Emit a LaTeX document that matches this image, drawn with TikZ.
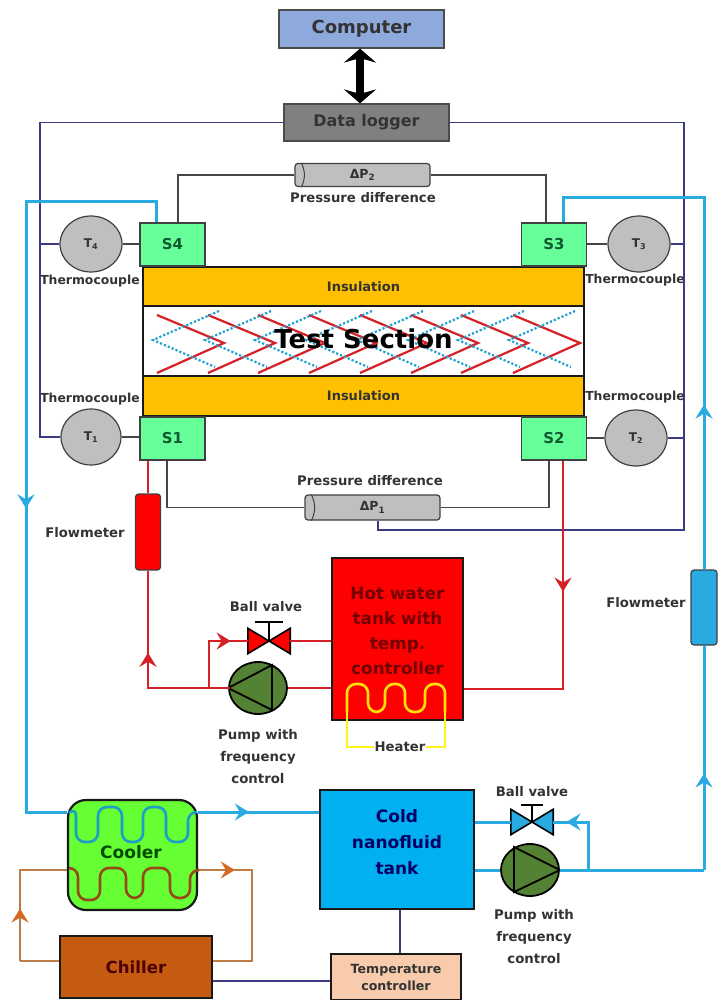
\documentclass[tikz,border=0pt]{standalone}
\usepackage{fontspec}
\setmainfont{DejaVu Sans}
\usepackage{tikz}
\usetikzlibrary{arrows.meta,calc,shapes.geometric,decorations.markings}
\definecolor{pipecold}{RGB}{41,171,226}
\definecolor{pipehot}{RGB}{214,32,39}
\definecolor{pipebrown}{RGB}{190,125,70}
\definecolor{tipbrown}{RGB}{214,105,35}
\definecolor{wirenavy}{RGB}{60,60,130}
\definecolor{wiregray}{RGB}{70,70,70}
\definecolor{sensorgreen}{RGB}{102,255,153}
\definecolor{sensortext}{RGB}{15,90,50}
\definecolor{insulation}{RGB}{255,192,0}
\definecolor{pumpgreen}{RGB}{84,130,53}
\definecolor{computerblue}{RGB}{142,169,219}
\definecolor{coldblue}{RGB}{0,176,240}
\definecolor{coolergreen}{RGB}{102,255,51}
\definecolor{chillerbrown}{RGB}{197,90,17}
\definecolor{ctrlpeach}{RGB}{248,203,173}
\begin{document}
\begin{tikzpicture}[x=1pt,y=-1pt,
    every node/.style={font=\bfseries\fontsize{12}{14}\selectfont, text=black!80},
    box/.style={draw=black!90, line width=2.2pt, inner sep=0pt, align=center},
    sensor/.style={draw=black!75, line width=1.2pt, fill=sensorgreen, minimum width=65pt, minimum height=43pt, inner sep=0pt, text=sensortext, font=\bfseries\fontsize{15}{17}\selectfont},
    tcouple/.style={ellipse, draw=black!75, line width=1.2pt, fill=black!25, minimum width=62pt, minimum height=56pt, inner sep=0pt, font=\bfseries\fontsize{12}{14}\selectfont},
    capt/.style={font=\bfseries\fontsize{13.2}{15}\selectfont, inner sep=0pt},
    thermo/.style={font=\bfseries\fontsize{12.4}{14}\selectfont, inner sep=0pt},
    textlabel/.style={font=\bfseries\fontsize{13.3}{22}\selectfont, inner sep=0pt, align=center},
    pumpbody/.style={ellipse, draw=black, line width=1.8pt, fill=pumpgreen, minimum width=58pt, minimum height=52pt, inner sep=0pt},
    valvebody/.style={minimum width=42pt, minimum height=25pt, inner sep=0pt},
    dpcell/.style={draw=black!75, line width=1.2pt, fill=black!25, rounded corners=3pt, minimum width=135pt, minimum height=23pt, inner sep=0pt, font=\bfseries\fontsize{12.5}{14}\selectfont},
    flowcell/.style={draw=black!75, line width=1.2pt, rounded corners=3pt, inner sep=0pt},
    dataline/.style={draw=wirenavy, line width=1.2pt},
    signalline/.style={draw=wiregray, line width=1.2pt},
    coldpipe/.style={draw=pipecold, line width=3pt},
    hotpipe/.style={draw=pipehot, line width=2.8pt},
    brownpipe/.style={draw=pipebrown, line width=2.6pt},
    coilline/.style={line width=2.6pt, rounded corners=9pt},
    flowtip/.style={postaction={decorate, decoration={markings, mark=at position #1 with {\arrow{Stealth[length=14pt,width=17pt,inset=5pt]}}}}},
    browntip/.style={postaction={decorate, decoration={markings, mark=at position #1 with {\arrow[tipbrown]{Stealth[length=14pt,width=17pt,inset=5pt]}}}}},
]
\useasboundingbox (0,0) rectangle (722,1000);

% control and logging
\node[box, draw=black!70, line width=1.2pt, fill=computerblue, minimum width=165pt, minimum height=38pt, font=\bfseries\fontsize{18}{20}\selectfont] (computer) at (361.5,29) {Computer};
\node[box, draw=black!70, line width=1.2pt, fill=black!50, minimum width=165pt, minimum height=37pt, font=\bfseries\fontsize{16}{18}\selectfont] (logger) at (366.5,122.5) {Data logger};
\draw[{Stealth[length=14pt,width=32pt]}-{Stealth[length=14pt,width=32pt]}, line width=8pt, black]
    (computer.south -| 360,0) -- (logger.north -| 360,0);

% test section
\node[box, fill=white, minimum width=441pt, minimum height=70pt] (section) at (363.5,341) {};
\foreach \x in {157,208,258,309,360,411,461,513}
    \draw[pipehot, line width=2.2pt] (\x,315) -- (\x+67,343) -- (\x,373);
\foreach \x in {153,205,255,306,357,408,458,509}
    \draw[pipecold!80!teal, line width=2.2pt, dotted] (\x+66,311) -- (\x,340) -- (\x+62,367);
\node[font=\bfseries\fontsize{26}{30}\selectfont, text=black, inner sep=0pt] (title) at (363.5,339) {Test Section};
\node[box, fill=insulation, minimum width=441pt, minimum height=39pt, font=\bfseries\fontsize{13}{15}\selectfont] (instop) at (363.5,286.5) {Insulation};
\node[box, fill=insulation, minimum width=441pt, minimum height=40pt, font=\bfseries\fontsize{13}{15}\selectfont] (insbot) at (363.5,396) {Insulation};

% sensors
\node[sensor] (S4) at (172.5,244.5) {S4};
\node[sensor] (S3) at (554,244.5) {S3};
\node[sensor] (S1) at (172.5,438.5) {S1};
\node[sensor] (S2) at (554,438.5) {S2};
\node[tcouple] (T4) at (91,244) {T\textsubscript{4}};
\node[tcouple] (T3) at (639,244) {T\textsubscript{3}};
\node[tcouple, minimum width=60pt] (T1) at (91,437) {T\textsubscript{1}};
\node[tcouple] (T2) at (636,438) {T\textsubscript{2}};
\node[thermo] (tc4) at (90,281) {Thermocouple};
\node[thermo] (tc1) at (90,399) {Thermocouple};
\node[thermo] (tc3) at (635,280) {Thermocouple};
\node[thermo] (tc2) at (635,397) {Thermocouple};

% pressure cells
\node[dpcell] (dp2) at (362.5,175) {Δ{}P\textsubscript{2}};
\node[dpcell, minimum height=25pt] (dp1) at (372.5,507.5) {Δ{}P\textsubscript{1}};
\draw[black!75, line width=1pt] ($(dp2.north west)+(7,0)$) to[bend left=25] ($(dp2.south west)+(7,0)$);
\draw[black!75, line width=1pt] ($(dp1.north west)+(7,0)$) to[bend left=25] ($(dp1.south west)+(7,0)$);
\node[capt] (dp2cap) at (363,198) {Pressure difference};
\node[capt] (dp1cap) at (370,481) {Pressure difference};

% hot loop parts
\node[box, fill=red, minimum width=131pt, minimum height=162pt] (hottank) at (397.5,639) {};
\node[textlabel, text=red!45!black, font=\bfseries\fontsize{16.8}{25}\selectfont] (hottext) at (397.5,631) {Hot water\\tank with\\temp.\\controller};
\node[flowcell, fill=red, minimum width=25pt, minimum height=76pt] (flowhot) at (148,532) {};
\node[capt] (flowhotcap) at (85,533) {Flowmeter};
\node[pumpbody] (pumphot) at (258,688) {};
\draw[black, line width=1.8pt] (pumphot.west) -- (272,665) -- (272,710) -- cycle;
\node[valvebody] (valvehot) at (269,641) {};
\node[capt] (valvehotcap) at (266,607) {Ball valve};
\node[textlabel] (pumphotcap) at (258,757) {Pump with\\frequency\\control};
\node[capt] (heatercap) at (400,747) {Heater};

% cold loop parts
\node[box, fill=coldblue, minimum width=154pt, minimum height=119pt] (coldtank) at (397,849.5) {};
\node[textlabel, text=blue!40!black, font=\bfseries\fontsize{17}{26}\selectfont] (coldtext) at (397,842) {Cold\\nanofluid\\tank};
\node[flowcell, fill=pipecold, minimum width=26pt, minimum height=75pt] (flowcold) at (704,607.5) {};
\node[capt] (flowcoldcap) at (646,603) {Flowmeter};
\node[pumpbody] (pumpcold) at (530,870) {};
\draw[black, line width=1.8pt] (pumpcold.east) -- (514,847) -- (514,892) -- cycle;
\node[valvebody] (valvecold) at (532,822) {};
\node[capt] (valvecoldcap) at (532,792) {Ball valve};
\node[textlabel] (pumpcoldcap) at (534,936.5) {Pump with\\frequency\\control};

% cooling parts
\node[box, fill=coolergreen, rounded corners=18pt, minimum width=129pt, minimum height=110pt] (cooler) at (132.5,855) {};
\node[textlabel, font=\bfseries\fontsize{17}{19}\selectfont, text=green!30!black] (coolertext) at (131,852) {Cooler};
\node[box, fill=chillerbrown, minimum width=152pt, minimum height=62pt, font=\bfseries\fontsize{16.6}{18}\selectfont, text=red!30!black] (chiller) at (136,967) {Chiller};
\node[box, fill=ctrlpeach, minimum width=130pt, minimum height=46pt, font=\bfseries\fontsize{12.6}{17}\selectfont] (tempctrl) at (396,977) {Temperature\\controller};

% valves
\draw[black, line width=1.6pt, fill=red] (valvehot.north west) -- (valvehot.south east) -- (valvehot.north east) -- (valvehot.south west) -- cycle;
\draw[black, line width=1.8pt] (valvehot.center) -- ($(valvehot.center)+(0,-19)$) coordinate (stemhot);
\draw[black, line width=1.8pt] ($(stemhot)+(-14,0)$) -- ($(stemhot)+(14,0)$);
\draw[black, line width=1.6pt, fill=pipecold] (valvecold.north west) -- (valvecold.south east) -- (valvecold.north east) -- (valvecold.south west) -- cycle;
\draw[black, line width=1.8pt] (valvecold.center) -- ($(valvecold.center)+(0,-17)$) coordinate (stemcold);
\draw[black, line width=1.8pt] ($(stemcold)+(-11,0)$) -- ($(stemcold)+(11,0)$);

% wires to the logger
\coordinate (busl) at (40,437);
\coordinate (busr) at (684,530);
\draw[dataline] (logger.west) -| (busl) -- (T1.west);
\draw[dataline] (T4.west) -- (T4.west -| busl);
\draw[dataline] (logger.east) -| (busr) -| ([xshift=5.5]dp1.south);
\draw[dataline] (T3.east) -- (T3.east -| busr);
\draw[dataline] (T2.east) -- (T2.east -| busr);
\draw[dataline] (chiller.east |- 0,981) -- (tempctrl.west |- 0,981);
\draw[dataline] (coldtank.south -| 400,0) -- (tempctrl.north -| 400,0);

\draw[signalline] (T4.east) -- (T4.east -| S4.west);
\draw[signalline] (T1.east) -- (T1.east -| S1.west);
\draw[signalline] (T3.west) -- (T3.west -| S3.east);
\draw[signalline] (T2.west) -- (T2.west -| S2.east);
\draw[signalline] (S4.north -| 178,0) |- (dp2.west);
\draw[signalline] (S3.north -| 546,0) |- (dp2.east);
\draw[signalline] (S1.south -| 167,0) |- (dp1.west);
\draw[signalline] (S2.south -| 549,0) |- (dp1.east);

% hot loop
\coordinate (hotjoin) at (209,688);
\coordinate (hotcorner) at (148,688);
\draw[hotpipe] (S1.south -| flowhot.north) -- (flowhot.north);
\draw[hotpipe, flowtip=0.3] (hotcorner) -- (flowhot.south);
\draw[hotpipe, line cap=rect] (hotcorner) -- (pumphot.west);
\draw[hotpipe, flowtip=0.8] (hotjoin) |- (valvehot.west);
\draw[hotpipe] (valvehot.east) -- (valvehot.east -| hottank.west);
\draw[hotpipe] (pumphot.east) -- (pumphot.east -| hottank.west);
\draw[hotpipe, flowtip=0.4] (S2.south -| 563,0) -- (563,689) -- (hottank.east |- 0,689);
\draw[coilline, draw=yellow!85!orange] (347,712) -- (347,684) -- (368,684) -- (368,712) -- (385,712) -- (385,684) -- (405,684) -- (405,712) -- (425,712) -- (425,684) -- (445,684) -- (445,712);
\draw[draw=yellow!90!white, line width=2.4pt] (347,712) |- (heatercap.west);
\draw[draw=yellow!90!white, line width=2.4pt] (445,712) |- (heatercap.east);

% cold loop
\coordinate (coldjoin) at (588,870);
\draw[coldpipe, flowtip=0.57] (S4.north -| 156,0) |- (26,202) -- (26,812) -- (cooler.west |- 0,812);
\draw[coldpipe, flowtip=0.42] (cooler.east |- 0,812) -- (coldtank.west |- 0,812);
\draw[coldpipe] (coldtank.east |- 0,822) -- (valvecold.west);
\draw[coldpipe] (coldtank.east |- 0,870) -- (pumpcold.west);
\draw[coldpipe] (pumpcold.east) -- (704,870);
\draw[coldpipe, flowtip=0.84] (coldjoin) |- (valvecold.east);
\draw[coldpipe, flowtip=0.43] (704,870) -- (flowcold.south);
\draw[coldpipe, flowtip=0.307] (flowcold.north) -- (704,198) -- (563,198) -- (S3.north -| 563,0);
\draw[coilline, draw=pipecold!70!teal] (70,812) -- (76,807) -- (76,842) -- (98,842) -- (98,807) -- (122,807) -- (122,842) -- (143,842) -- (143,807) -- (166,807) -- (166,842) -- (188,842) -- (188,812) -- (196,812);

% chiller loop
\coordinate (brownl) at (20,961);
\coordinate (brownr) at (252,961);
\draw[brownpipe] (chiller.west |- brownl) -- (brownl);
\draw[brownpipe, browntip=0.38] (brownl) -- (20,870) -- (cooler.west |- 0,870);
\draw[brownpipe, browntip=0.2] (cooler.east |- 0,870) -- (252,870) -- (brownr) -- (chiller.east |- brownr);
\draw[coilline, draw=tipbrown!70!black] (69,868) -- (78,868) -- (78,900) -- (100,900) -- (100,868) -- (126,868) -- (126,898) -- (143,898) -- (143,868) -- (170,868) -- (170,898) -- (190,898) -- (190,870) -- (196,870);
\end{tikzpicture}
\end{document}
